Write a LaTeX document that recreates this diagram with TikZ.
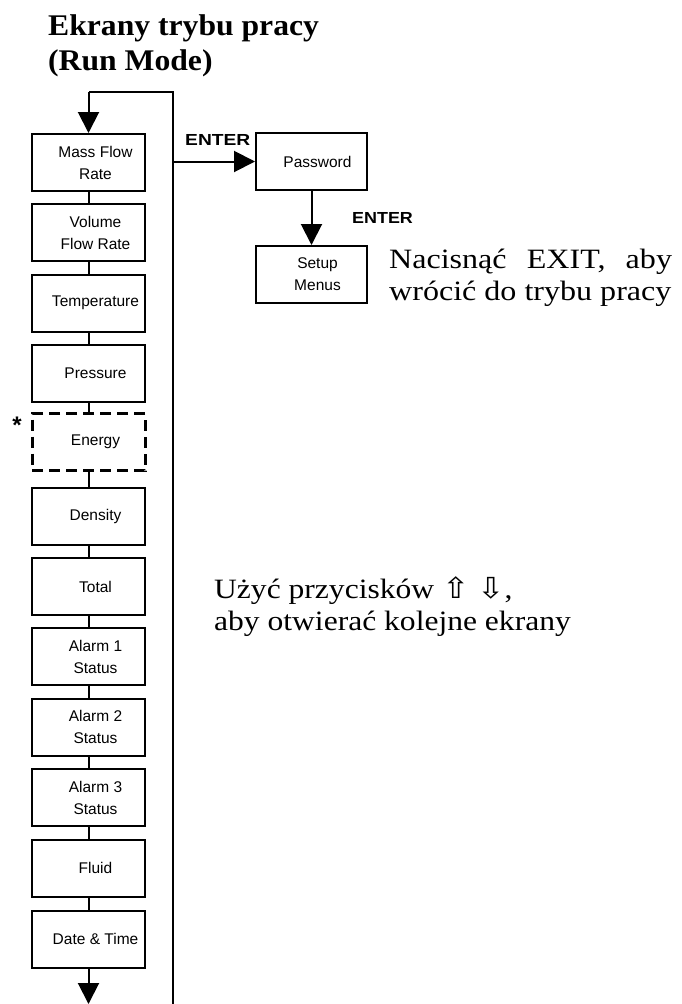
\documentclass[tikz,border=0pt]{standalone}
\usepackage{fontspec}
\setmainfont{Liberation Serif}
\setsansfont{Liberation Sans}
\newfontfamily\arrowfont{DejaVu Sans}
\usetikzlibrary{arrows.meta}

\newcommand{\widetext}[2]{\scalebox{#1}[1]{#2}}
\newcommand{\keyarrow}[1]{{\arrowfont\fontsize{29}{29}\selectfont #1}}

\begin{document}
\begin{tikzpicture}[x=1pt,y=-1pt,
  screen/.style={draw, line width=2pt, minimum width=113pt, minimum height=57pt,
                 inner sep=0pt},
  optscreen/.style={screen, dash pattern=on 11pt off 6pt, line width=3pt},
  screentext/.style={font=\sffamily\fontsize{15.5}{22}\selectfont, align=center,
                 inner sep=0pt, xshift=7pt},
  link/.style={line width=2pt},
  flow/.style={line width=2pt, -{Triangle[length=21pt,width=21pt]}},
  keylabel/.style={font=\sffamily\bfseries\fontsize{16}{18}\selectfont, anchor=base west, inner sep=0pt},
  heading/.style={font=\bfseries\fontsize{30}{35}\selectfont, anchor=base west, inner sep=0pt},
  note/.style={font=\fontsize{28}{32}\selectfont, anchor=base west, inner sep=0pt}
]
\useasboundingbox (0,0) rectangle (681,1004);

% heading
\node[heading] (head1) at (48,35) {\widetext{1.055}{Ekrany trybu pracy}};
\node[heading] (head2) at (48,70) {\widetext{1.055}{(Run Mode)}};

% run mode screens
\node[screen, label={[screentext]center:Mass Flow\\Rate}]        (mass)     at (88.5,162.5) {};
\node[screen, label={[screentext]center:Volume\\Flow Rate}]      (volume)   at (88.5,232.5) {};
\node[screen, label={[screentext]center:Temperature}]            (temp)     at (88.5,303) {};
\node[screen, label={[screentext]center:Pressure}]               (pressure) at (88.5,373.5) {};
\node[optscreen, label={[screentext]center:Energy}]              (energy)   at (88.5,442) {};
\node[screen, label={[screentext]center:Density}]                (density)  at (88.5,516) {};
\node[screen, label={[screentext]center:Total}]                  (total)    at (88.5,586.5) {};
\node[screen, label={[screentext]center:Alarm 1\\Status}]        (alarmA)   at (88.5,656.5) {};
\node[screen, label={[screentext]center:Alarm 2\\Status}]        (alarmB)   at (88.5,727) {};
\node[screen, label={[screentext]center:Alarm 3\\Status}]        (alarmC)   at (88.5,797.5) {};
\node[screen, label={[screentext]center:Fluid}]                  (fluid)    at (88.5,868) {};
\node[screen, label={[screentext]center:Date \& Time}]           (datetime) at (88.5,939) {};

\node[font=\sffamily\bfseries\fontsize{24}{24}\selectfont, inner sep=0pt] (star) at (17,425) {*};

% links between screens
\foreach \a/\b in {mass/volume, volume/temp, temp/pressure, pressure/energy,
                   energy/density, density/total, total/alarmA, alarmA/alarmB,
                   alarmB/alarmC, alarmC/fluid, fluid/datetime}
  \draw[link] (\a.south) -- (\b.north);

% return loop
\coordinate (loopbot) at (173,1004);
\coordinate (looptopR) at (173,92);
\coordinate (looptopL) at (88.5,92);
\coordinate (tail) at (88.5,1004);
\draw[link] (loopbot) -- (looptopR) -- (looptopL);
\draw[flow] (looptopL) -- (mass.north);
\draw[flow] (datetime.south) -- (tail);

% setup branch
\node[screen, minimum width=111pt, label={[screentext,xshift=-1pt]center:Password}] (password) at (311.5,161.5) {};
\node[screen, minimum width=111pt, label={[screentext,xshift=-1pt]center:Setup\\Menus}] (setup) at (311.5,274.5) {};
\coordinate (branch) at (173,161.5);
\draw[flow] (branch) -- (password.west);
\draw[flow] (password.south) -- (setup.north);
\node[keylabel] (enter1) at (185,145) {\widetext{1.2}{ENTER}};
\node[keylabel] (enter2) at (352,223) {\widetext{1.12}{ENTER}};

% notes
\node[note] (exit1) at (389,268) {\widetext{1.145}{\hbox to 247pt{Nacisnąć\hfill EXIT,\hfill aby}}};
\node[note] (exit2) at (389,300) {\widetext{1.145}{wrócić do trybu pracy}};
\node[note] (keys1) at (214,598) {\widetext{1.127}{Użyć przycisków \keyarrow{⇧} \keyarrow{⇩},}};
\node[note] (keys2) at (214,630) {\widetext{1.127}{aby otwierać kolejne ekrany}};
\end{tikzpicture}
\end{document}
